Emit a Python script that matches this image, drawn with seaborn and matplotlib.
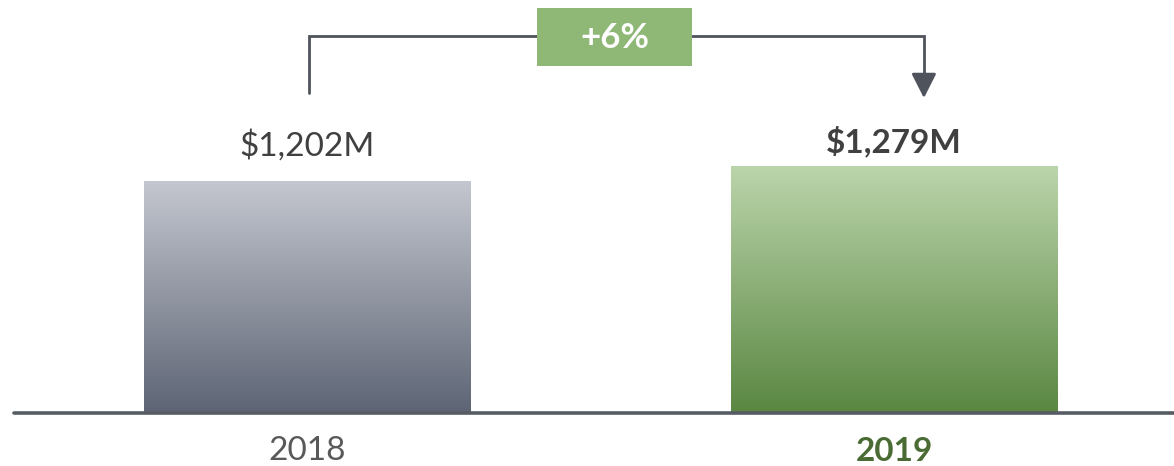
import numpy as np
import pandas as pd
import matplotlib
matplotlib.use("Agg")
import matplotlib.pyplot as plt
from matplotlib.colors import LinearSegmentedColormap, to_rgb
from matplotlib.patches import Rectangle, FancyArrowPatch
import seaborn as sns

# Revenue by year
years = ["2018", "2019"]
revenue = [1202, 1279]          # $M
value_labels = ["$1,202M", "$1,279M"]
growth_label = "+6%"

# Vertical gradients (top colour, bottom colour) for each bar
grad_top = ["#c4c7cf", "#bbd5ab"]
grad_bottom = ["#5d6474", "#5a8742"]

sns.set_theme(style="white")
plt.rcParams["font.family"] = ["Lato", "DejaVu Sans"]

fig = plt.figure(figsize=(11.74, 4.66), dpi=100)
ax = fig.add_axes([14 / 1174, 53 / 466, 1 - 14 / 1174, 1 - 53 / 466])

df = pd.DataFrame({"year": years, "revenue": revenue})
sns.barplot(data=df, x="year", y="revenue", hue="year", palette=grad_top,
            width=0.5575, legend=False, ax=ax, saturation=1)

# Replace flat fills with vertical gradients clipped to each bar
for patch, top, bottom in zip(ax.patches, grad_top, grad_bottom):
    x0, y0 = patch.get_x(), patch.get_y()
    w, h = patch.get_width(), patch.get_height()
    cmap = LinearSegmentedColormap.from_list("g", [to_rgb(bottom), to_rgb(top)])
    grad = np.linspace(0, 1, 256).reshape(-1, 1)
    im = ax.imshow(grad, cmap=cmap, aspect="auto", origin="lower",
                   extent=[x0, x0 + w, y0, y0 + h], zorder=patch.get_zorder() + 0.1)
    im.set_clip_path(patch)
ax.set_xlim(-0.5004, 1.4774)
ax.set_ylim(0, 2140)

# Baseline
ax.axhline(0, color="#575c64", lw=2.6, zorder=5, clip_on=False)

# Value labels above bars
ax.text(0, revenue[0] + 182, value_labels[0], ha="center", va="center",
        fontsize=24, color="#404040")
ax.text(1, revenue[1] + 130, value_labels[1], ha="center", va="center",
        fontsize=24, color="#404040", fontweight="bold")

# Category labels below the baseline
ax.set_xticks([0, 1])
ax.set_xticklabels([])
ax.tick_params(axis="x", length=0)
ax.text(0, -198, years[0], ha="center", va="center", fontsize=24,
        color="#595959", clip_on=False)
ax.text(1, -198, years[1], ha="center", va="center", fontsize=24,
        color="#4a6b34", fontweight="bold", clip_on=False)

ax.set_yticks([])
ax.set_xlabel("")
ax.set_ylabel("")
for s in ax.spines.values():
    s.set_visible(False)

# Growth bracket with arrow into the 2019 bar
line_c = "#4f535b"
y_low, y_top, y_tip = 1658, 1953, 1632
x_left, x_right = 0.003, 1.051
ax.plot([x_left, x_left, x_right, x_right], [y_low, y_top, y_top, y_tip + 60],
        color=line_c, lw=2, solid_joinstyle="miter", zorder=6)
ax.add_patch(FancyArrowPatch((x_right, y_tip + 80), (x_right, y_tip),
                             arrowstyle="-|>,head_length=0.75,head_width=0.38",
                             mutation_scale=20, color=line_c, lw=2, zorder=6,
                             shrinkA=0, shrinkB=0))

# Growth badge
bx0 = (537 - 307.5) / 586.5
bx1 = (692 - 307.5) / 586.5
ax.add_patch(Rectangle((bx0, 1798), bx1 - bx0, 300, facecolor="#8fb877",
                       edgecolor="none", zorder=7, clip_on=False))
ax.text((bx0 + bx1) / 2, 1943, growth_label, ha="center", va="center",
        fontsize=25, color="white", fontweight="bold", zorder=8)

fig.savefig("out.png", dpi=100)
